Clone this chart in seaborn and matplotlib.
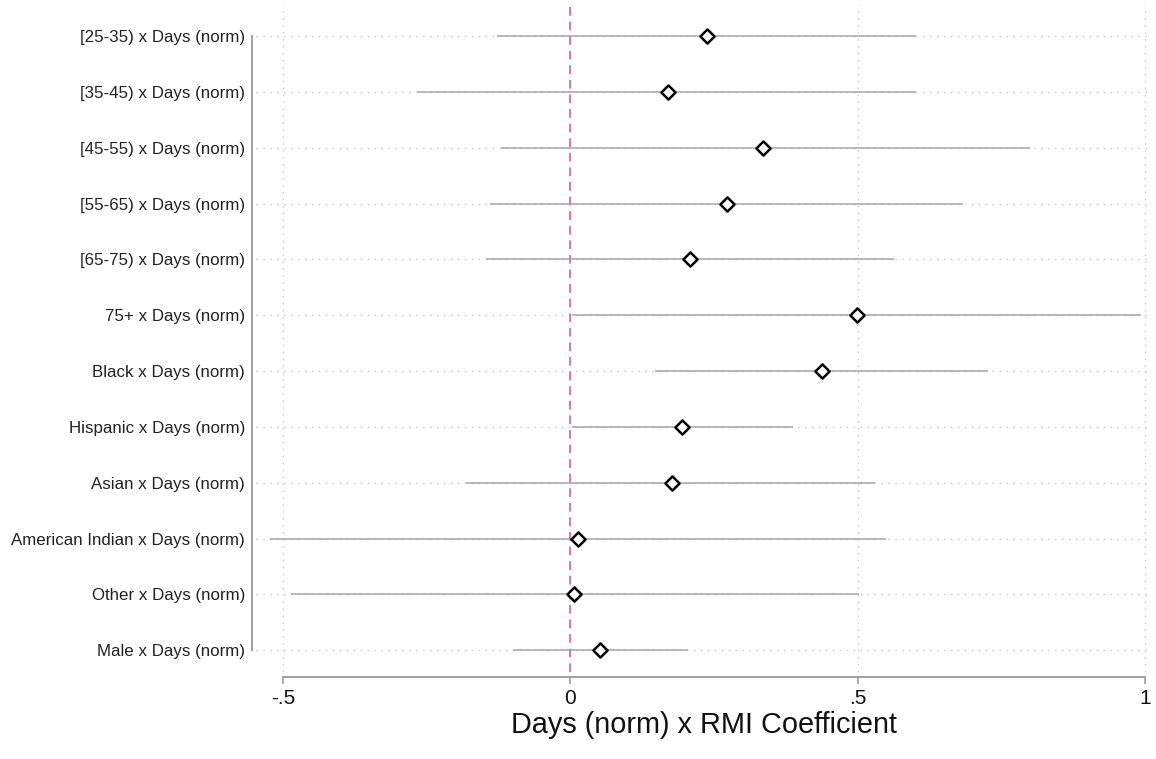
import numpy as np
import pandas as pd
import matplotlib
matplotlib.use("Agg")
import matplotlib.pyplot as plt
import seaborn as sns

labels = ["[25-35) x Days (norm)", "[35-45) x Days (norm)", "[45-55) x Days (norm)",
          "[55-65) x Days (norm)", "[65-75) x Days (norm)", "75+ x Days (norm)",
          "Black x Days (norm)", "Hispanic x Days (norm)", "Asian x Days (norm)",
          "American Indian x Days (norm)", "Other x Days (norm)", "Male x Days (norm)"]
coef = [0.237, 0.169, 0.336, 0.273, 0.209, 0.498, 0.437, 0.195, 0.176, 0.014, 0.007, 0.052]
ci_low = [-0.128, -0.267, -0.120, -0.139, -0.146, 0.002, 0.148, 0.002, -0.181, -0.523, -0.486, -0.099]
ci_high = [0.601, 0.601, 0.800, 0.683, 0.563, 0.993, 0.726, 0.388, 0.530, 0.550, 0.502, 0.204]
xticks = [-0.5, 0, 0.5, 1]
xticklabels = ["-.5", "0", ".5", "1"]

sns.set_theme(style="white")
plt.rcParams['font.family'] = ['Liberation Sans', 'DejaVu Sans']

df = pd.DataFrame({"label": labels, "coef": coef, "lo": ci_low, "hi": ci_high})
df["pos"] = np.arange(len(df))

fig = plt.figure(figsize=(11.56, 7.59), dpi=100)
ax = fig.add_axes([256/1156, 1 - 672/759, (1152-256)/1156, (672-5)/759])

grid_c = "#c8c8c8"
for p in df["pos"]:
    ax.axhline(p, color=grid_c, lw=1.0, ls=(0, (1, 4)), zorder=0)
for t in [-0.5, 0.5, 1]:
    ax.axvline(t, color=grid_c, lw=1.0, ls=(0, (1, 4)), zorder=0)

ax.hlines(df["pos"], df["lo"], df["hi"], color="#a6a6a6", lw=1.1, zorder=1)
ax.axvline(0, color="#d17aa8", lw=1.4, ls=(0, (4.5, 3)), zorder=2)

sns.scatterplot(data=df, x="coef", y="pos", marker="D", s=52, facecolor="white",
                edgecolor="black", linewidth=1.8, zorder=3, ax=ax, legend=False)

ax.set_xlim(-0.547, 1.012)
ax.set_ylim(len(df) - 1 + 0.39, -0.555)
ax.tick_params(axis="x", bottom=True, length=5, width=1.2, color="#a0a0a0", pad=4,
               labelsize=15, labelcolor="#111111")
ax.tick_params(axis="y", left=False, length=0, pad=5, labelsize=12.2, labelcolor="#222222")
ax.set_yticks(df["pos"])
ax.set_yticklabels(df["label"])
ax.set_xticks(xticks)
ax.set_xticklabels(xticklabels)
ax.set_xlabel("Days (norm) x RMI Coefficient", fontsize=20.8, color="#111111", labelpad=1.5)
ax.set_ylabel("")

for s in ["top", "right"]:
    ax.spines[s].set_visible(False)
ax.spines["left"].set_bounds(0, len(df) - 1)
ax.spines["left"].set_position(("outward", 3))
ax.spines["left"].set_color("#a0a0a0")
ax.spines["left"].set_linewidth(1.4)
ax.spines["bottom"].set_bounds(-0.5, 1)
ax.spines["bottom"].set_position(("outward", 3.6))
ax.spines["bottom"].set_color("#a0a0a0")
ax.spines["bottom"].set_linewidth(1.4)

fig.savefig("out.png", dpi=100, facecolor="white")
